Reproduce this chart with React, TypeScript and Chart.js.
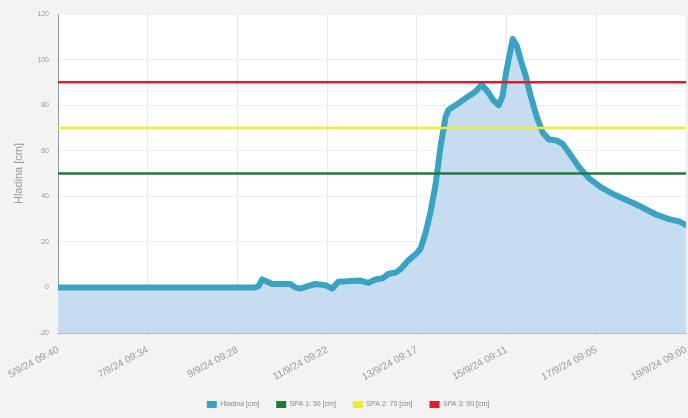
import React, { useEffect, useRef } from 'react';
import { Chart, registerables } from 'chart.js';

Chart.register(...registerables);

// Hours since 5/9/24 09:40 for each x tick, and their labels
const tickHours = [0, 47.9, 95.8, 143.7, 191.617, 239.517, 287.417, 335.333];
const tickLabels = [
  '5/9/24 09:40',
  '7/9/24 09:34',
  '9/9/24 09:28',
  '11/9/24 09:22',
  '13/9/24 09:17',
  '15/9/24 09:11',
  '17/9/24 09:05',
  '19/9/24 09:00',
];

// Water level series (hours since start, level in cm)
const levelHours = [
  0, 49.2, 105.3, 107, 109, 111.8, 114.4, 124, 126.7, 129.4, 133, 137.4, 142.8, 146.5,
  149.7, 161.5, 165.8, 169.5, 173.3, 176.5, 180.2, 182.9, 187.2, 190.9, 193.6, 196.3,
  198.9, 201.6, 204.3, 207, 208.6, 212.3, 217.6, 223, 226.2, 229.4, 232.6, 235.3, 237.4,
  239, 240.6, 242.8, 245, 247, 249.7, 252.4, 255.6, 258.8, 262, 266.3, 269.5, 273.8, 278,
  283.4, 289.8, 296.3, 303.2, 311.2, 319.3, 326.2, 331.6, 335.333,
];
const levelValues = [
  0, 0, 0, 0.5, 3.5, 2.5, 1.5, 1.5, 0, -0.5, 0.5, 1.5, 1, -0.5,
  2.5, 3, 2, 3.5, 4, 6, 6.5, 8, 12, 14.5, 17, 24,
  33, 45, 62, 75, 78, 80, 83, 86, 89, 86, 82, 80, 84,
  93, 100, 109, 106, 100, 93, 84, 75, 68, 65, 64.5, 63, 58, 53,
  48, 44, 41, 38.5, 35.5, 32, 30, 29, 27.5,
];

const seriesNames = ['Hladina [cm]', 'SPA 1: 50 [cm]', 'SPA 2: 70 [cm]', 'SPA 3: 90 [cm]'];
const thresholdValues = [50, 70, 90];

const yTicks = { min: -20, max: 120, step: 20 };

const bgPlugin = {
  id: 'bgPlugin',
  beforeDraw(chart: any) {
    const { ctx, chartArea } = chart;
    ctx.save();
    ctx.fillStyle = '#f3f3f3';
    ctx.fillRect(0, 0, chart.width, chart.height);
    ctx.fillStyle = '#ffffff';
    ctx.fillRect(chartArea.left, chartArea.top, chartArea.right - chartArea.left, chartArea.bottom - chartArea.top);
    ctx.restore();
  },
};

export default function App() {
  const ref = useRef<HTMLCanvasElement>(null);

  useEffect(() => {
    document.body.style.margin = '0';
    const xMax = tickHours[tickHours.length - 1];
    const thresholdColors = ['#1f7a3d', '#f0ea3a', '#d4212b'];
    const chart = new Chart(ref.current as HTMLCanvasElement, {
      type: 'line',
      data: {
        datasets: [
          {
            label: seriesNames[0],
            data: levelHours.map((h, i) => ({ x: h, y: levelValues[i] })),
            borderColor: '#3aa2c2',
            backgroundColor: '#c6dcf1',
            borderWidth: 6,
            pointRadius: 0,
            fill: 'start',
            tension: 0,
            borderJoinStyle: 'round',
            borderCapStyle: 'round',
            order: 4,
          },
          ...thresholdValues.map((v, i) => ({
            label: seriesNames[i + 1],
            data: [
              { x: 0, y: v },
              { x: xMax, y: v },
            ],
            borderColor: thresholdColors[i],
            backgroundColor: thresholdColors[i],
            borderWidth: 2.5,
            pointRadius: 0,
            fill: false,
            order: 3 - i,
          })),
        ],
      },
      options: {
        animation: false,
        responsive: false,
        layout: { padding: { top: 14, right: 2, left: 10, bottom: 0 } },
        plugins: {
          legend: {
            position: 'bottom',
            labels: {
              font: { size: 7, family: 'Arial, Liberation Sans, sans-serif' },
              color: '#888',
              boxWidth: 10,
              boxHeight: 7,
              padding: 17,
              sort: (a: any, b: any) => a.datasetIndex - b.datasetIndex,
              generateLabels: (c: any) =>
                c.data.datasets.map((ds: any, i: number) => ({
                  text: ds.label,
                  fillStyle: ds.borderColor,
                  strokeStyle: ds.borderColor,
                  lineWidth: 0,
                  fontColor: '#888',
                  hidden: false,
                  datasetIndex: i,
                })),
            },
          },
          tooltip: { enabled: false },
        },
        scales: {
          x: {
            type: 'linear',
            min: 0,
            max: xMax,
            afterBuildTicks: (scale: any) => {
              scale.ticks = tickHours.map((v) => ({ value: v }));
            },
            afterFit: (scale: any) => {
              scale.height = 51;
              scale.paddingLeft = 0;
              scale.paddingRight = 0;
            },
            ticks: {
              autoSkip: false,
              minRotation: 28,
              maxRotation: 28,
              padding: 7,
              font: { size: 10, family: 'Arial, Liberation Sans, sans-serif' },
              color: '#9a9a9a',
              callback: (_v: any, i: number) => tickLabels[i],
            },
            grid: { color: '#e9e9e9', tickLength: 4 },
            border: { color: '#bbb' },
          },
          y: {
            min: yTicks.min,
            max: yTicks.max,
            afterFit: (scale: any) => {
              scale.width = 48;
            },
            ticks: {
              stepSize: yTicks.step,
              font: { size: 7, family: 'Arial, Liberation Sans, sans-serif' },
              color: '#999',
              padding: 4,
            },
            grid: { color: '#eeeeee', tickLength: 5 },
            border: { color: '#999' },
            title: {
              display: true,
              text: 'Hladina [cm]',
              color: '#999',
              font: { size: 11, family: 'Arial, Liberation Sans, sans-serif' },
              padding: { top: 2, bottom: 0 },
            },
          },
        },
      },
      plugins: [bgPlugin],
    } as any);
    return () => chart.destroy();
  }, []);

  return (
    <div style={{ width: 688, height: 418 }}>
      <canvas ref={ref} width={688} height={418} />
    </div>
  );
}
